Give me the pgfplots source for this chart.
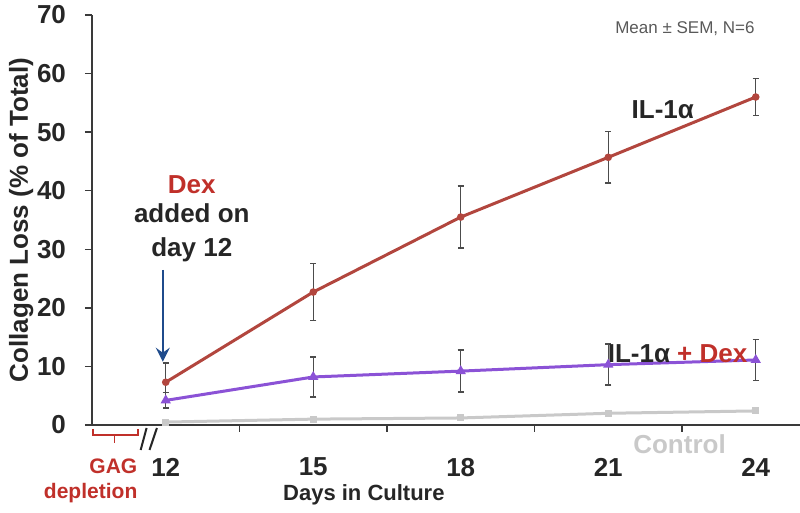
\documentclass[border=0pt]{standalone}
\usepackage{fontspec}
\setmainfont{Liberation Sans}
\usepackage{pgfplots}
\pgfplotsset{compat=1.18}
\usetikzlibrary{arrows.meta}

\definecolor{ilred}{HTML}{B2463E}
\definecolor{ildex}{HTML}{8B52D6}
\definecolor{ctrl}{HTML}{C9C9C9}
\definecolor{dexred}{HTML}{C0302A}
\definecolor{arrowblue}{HTML}{1F4B8C}
\definecolor{axisgray}{HTML}{3A3A3A}

\pgfplotsset{
  sembars/.style={
    error bars/.cd, y dir=both, y explicit,
    error mark=|,
    error bar style={draw=black!70, line width=0.6pt},
    error mark options={draw=black!70, solid, line width=0.7pt, mark size=1.6pt},
  },
}

\begin{document}
\begin{tikzpicture}
\begin{axis}[
  scale only axis, width=354pt, height=205pt,
  xmin=10.5, xmax=24.9, ymin=0, ymax=70,
  axis x line=bottom, axis y line=left,
  axis line style={-, axisgray, line width=0.8pt},
  tick style={axisgray, line width=0.7pt},
  tick align=outside, major tick length=3.5pt,
  xtick={13.5,16.5,19.5,22.5}, xticklabels={},
  extra x ticks={12,15,18,21,24},
  extra x tick labels={12,15,18,21,24},
  extra x tick style={major tick length=0pt},
  ytick={0,10,...,70},
  /pgf/number format/assume math mode=true,
  ticklabel style={font=\bfseries\fontsize{13}{15}\selectfont, text=black!85},
  xticklabel style={yshift=-13pt},
  yticklabel style={xshift=-6pt},
  xlabel={Days in Culture},
  xlabel style={font=\bfseries\fontsize{11}{13}\selectfont, text=black!85,
    at={(axis description cs:0.384,-0.17)}, anchor=center},
  ylabel={Collagen Loss (\% of Total)},
  ylabel style={font=\bfseries\fontsize{13}{15}\selectfont, text=black!85,
    at={(axis description cs:-0.1,0.5)}, anchor=center},
  clip=false,
]
% control
\addplot[ctrl, line width=1.5pt, mark=square*, mark size=1pt]
  coordinates {(12,0.5) (15,1.0) (18,1.2) (21,2.0) (24,2.4)};
% IL-1a + Dex
\addplot[ildex, line width=1.5pt, mark=triangle*, mark size=1.5pt, sembars]
  coordinates {(12,4.2) +- (0,1.3) (15,8.2) +- (0,3.4) (18,9.2) +- (0,3.6)
               (21,10.3) +- (0,3.5) (24,11.1) +- (0,3.5)};
% IL-1a
\addplot[ilred, line width=1.5pt, mark=*, mark size=1.1pt, sembars]
  coordinates {(12,7.3) +- (0,3.3) (15,22.7) +- (0,4.9) (18,35.5) +- (0,5.3)
               (21,45.7) +- (0,4.4) (24,56.0) +- (0,3.2)};

% annotations
\node[anchor=base, font=\fontsize{8.5}{10}\selectfont, text=black!65]
  at (axis cs:22.56,66.8) {Mean ± SEM, N=6};
\node[anchor=base, font=\bfseries\fontsize{13}{15}\selectfont, text=black!85]
  at (axis cs:22.11,52.4) {IL-1α};
\node[anchor=base, font=\bfseries\fontsize{13}{15}\selectfont, text=black!85]
  at (axis cs:22.41,10.6) {IL-1α \textcolor{dexred}{+ Dex}};
\node[anchor=base, font=\bfseries\fontsize{13}{15}\selectfont, text=ctrl]
  at (axis cs:22.45,-4.8) {Control};
\node[anchor=base, font=\bfseries\fontsize{13}{15}\selectfont, text=dexred]
  at (axis cs:12.53,39.6) {Dex};
\node[anchor=base, font=\bfseries\fontsize{13}{15}\selectfont, text=black!85]
  at (axis cs:12.53,34.5) {added on};
\node[anchor=base, font=\bfseries\fontsize{13}{15}\selectfont, text=black!85]
  at (axis cs:12.53,28.7) {day 12};
\draw[arrowblue, line width=1.2pt, -{Stealth[length=7pt,width=7pt,inset=2.5pt]}]
  (axis cs:11.94,26.5) -- (axis cs:11.94,10.8);
% GAG depletion bracket
\draw[dexred, line width=0.8pt] (axis cs:10.52,-0.68) -- (axis cs:10.52,-1.71)
  -- (axis cs:11.43,-1.71) -- (axis cs:11.43,-0.68);
\draw[dexred, line width=0.8pt] (axis cs:10.96,-1.71) -- (axis cs:10.96,-3.07);
\node[anchor=base east, inner sep=0pt, font=\bfseries\fontsize{10.5}{12}\selectfont, text=dexred]
  at (axis cs:11.43,-8.2) {GAG};
\node[anchor=base east, inner sep=0pt, font=\bfseries\fontsize{10.5}{12}\selectfont, text=dexred]
  at (axis cs:11.43,-12.5) {depletion};
% axis break
\draw[black!85, line width=1pt] (axis cs:11.49,-4.27) -- (axis cs:11.61,-0.51);
\draw[black!85, line width=1pt] (axis cs:11.67,-4.27) -- (axis cs:11.82,-0.51);
\end{axis}
\pgfresetboundingbox
\path[use as bounding box] (-46pt,-44pt) rectangle (354pt,212.5pt);
\end{tikzpicture}
\end{document}
